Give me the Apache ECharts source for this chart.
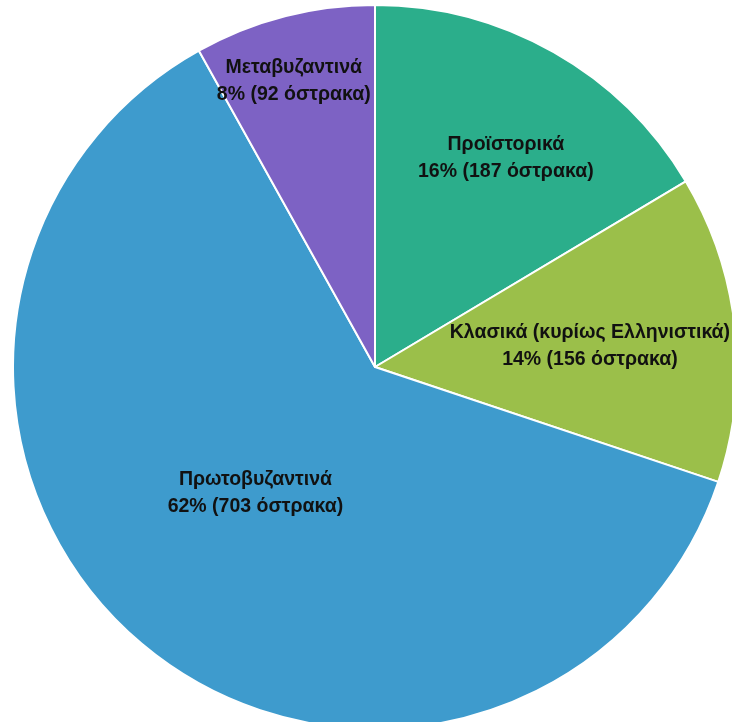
<!DOCTYPE html>
<html>
<head>
<meta charset="utf-8">
<script src="https://cdn.jsdelivr.net/npm/echarts@6/dist/echarts.min.js"></script>
<style>
html,body{margin:0;padding:0;background:#fff;}
#chart{width:732px;height:722px;}
</style>
</head>
<body>
<div id="chart"></div>
<script>
const categories = ['Προϊστορικά', 'Κλασικά (κυρίως Ελληνιστικά)', 'Πρωτοβυζαντινά', 'Μεταβυζαντινά'];
const counts = [187, 156, 703, 92];
const percents = [16, 14, 62, 8];
const colors = ['#2BAE8B', '#9BBF4A', '#3E9BCD', '#7D62C4'];
const labelOffsets = [[40, -49], [32, -1], [-2, -15], [-35, -108]];

const chart = echarts.init(document.getElementById('chart'), null, {renderer: 'canvas'});
const data = categories.map((c, i) => ({
  name: c,
  value: counts[i],
  itemStyle: {color: colors[i]},
  label: {offset: labelOffsets[i]}
}));
chart.setOption({
  animation: false,
  series: [{
    type: 'pie',
    center: [375, 367],
    radius: [0, 362],
    startAngle: 90,
    clockwise: true,
    avoidLabelOverlap: false,
    itemStyle: {borderColor: '#ffffff', borderWidth: 2},
    label: {
      show: true,
      position: 'inside',
      formatter: p => p.name + '\n' + percents[p.dataIndex] + '% (' + p.value + ' όστρακα)',
      color: '#111111',
      fontFamily: 'Liberation Sans',
      fontWeight: 'bold',
      fontSize: 19.5,
      lineHeight: 27,
      align: 'center'
    },
    labelLine: {show: false},
    emphasis: {disabled: true},
    data: data
  }]
});
</script>
</body>
</html>
